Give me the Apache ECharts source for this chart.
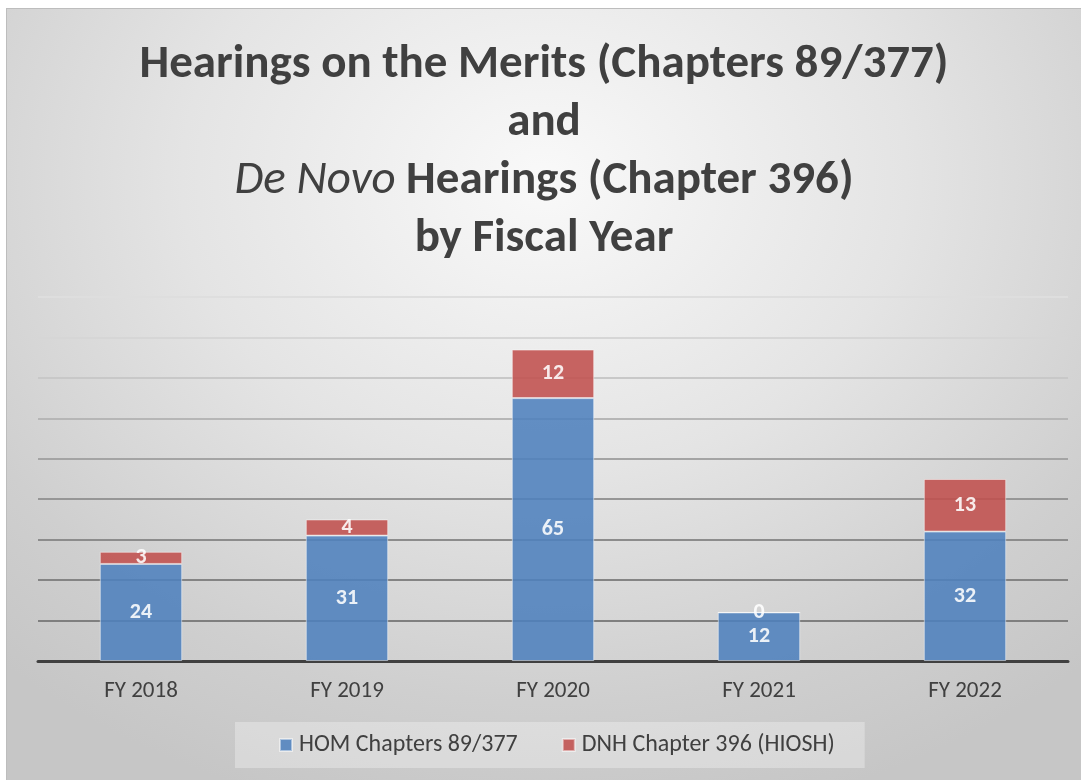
<!DOCTYPE html>
<html>
<head>
<meta charset="utf-8">
<script src="https://cdn.jsdelivr.net/npm/echarts@6/dist/echarts.min.js"></script>
<style>
  html, body { margin: 0; padding: 0; background: #ffffff; }
  #chart {
    position: absolute;
    left: 6px;
    top: 8px;
    width: 1075px;
    height: 772px;
    border-top: 1px solid #bdbdbd;
    border-left: 1px solid #bdbdbd;
    box-sizing: border-box;
    background: radial-gradient(ellipse 75% 85% at 50% 22%, #f9f9f9 0%, #e4e4e4 45%, #cfcfcf 80%, #c6c6c6 100%);
  }
</style>
</head>
<body>
<div id="chart"></div>
<script>
// data
var years = ['FY 2018', 'FY 2019', 'FY 2020', 'FY 2021', 'FY 2022'];
var homValues = [24, 31, 65, 12, 32];
var dnhValues = [3, 4, 12, 0, 13];
var seriesNames = ['HOM Chapters 89/377', 'DNH Chapter 396 (HIOSH)'];

var font = 'Carlito, Lato, "Open Sans", sans-serif';
var dark = '#404040';

var myChart = echarts.init(document.getElementById('chart'));

// gridlines fade out towards the top
var gridColors = ['#7c7c7c', '#7f7f7f', '#848484', '#8c8c8c', '#969696', '#a4a4a4', '#b6b6b6', '#c8c8c8', '#d6d6d6', '#dedede'];

var labelStyle = {
  show: true,
  position: 'inside',
  color: '#ffffff',
  fontFamily: font,
  fontWeight: 'bold',
  fontSize: 22
};

myChart.setOption({
  title: {
    text: 'Hearings on the Merits (Chapters 89/377)\nand\n{i|De Novo} Hearings (Chapter 396)\nby Fiscal Year',
    left: 'center',
    top: 22,
    textStyle: {
      color: dark,
      fontFamily: font,
      fontWeight: 'bold',
      fontSize: 47,
      lineHeight: 58,
      rich: {
        i: {
          color: dark,
          fontFamily: font,
          fontWeight: 'normal',
          fontStyle: 'italic',
          fontSize: 47,
          lineHeight: 58
        }
      }
    }
  },
  legend: {
    bottom: 12,
    left: 228,
    itemWidth: 12,
    itemHeight: 12,
    itemGap: 44,
    icon: 'rect',
    padding: [11, 30, 11, 44],
    backgroundColor: 'rgba(255,255,255,0.3)',
    textStyle: { color: dark, fontFamily: font, fontSize: 24, padding: [0, 0, 0, 2] },
    data: seriesNames
  },
  grid: {
    left: 31,
    right: 13,
    top: 288,
    bottom: 119,
    containLabel: false
  },
  xAxis: {
    type: 'category',
    data: years,
    axisTick: { show: false },
    axisLine: { lineStyle: { color: dark, width: 3 } },
    axisLabel: { color: dark, fontFamily: font, fontSize: 23, margin: 19 }
  },
  yAxis: {
    type: 'value',
    min: 0,
    max: 90,
    interval: 10,
    axisLabel: { show: false },
    axisLine: { show: false },
    axisTick: { show: false },
    splitLine: { lineStyle: { color: gridColors, width: 2 } }
  },
  series: [{
    name: seriesNames[0],
    type: 'bar',
    stack: 'total',
    barWidth: '40%',
    data: homValues,
    itemStyle: { color: '#4F81BD', opacity: 0.88, borderColor: 'rgba(255,255,255,0.55)', borderWidth: 1 },
    label: labelStyle
  }, {
    name: seriesNames[1],
    type: 'bar',
    stack: 'total',
    barWidth: '40%',
    data: dnhValues,
    itemStyle: { color: '#C0504D', opacity: 0.88, borderColor: 'rgba(255,255,255,0.55)', borderWidth: 1 },
    label: labelStyle
  }]
});
</script>
</body>
</html>
